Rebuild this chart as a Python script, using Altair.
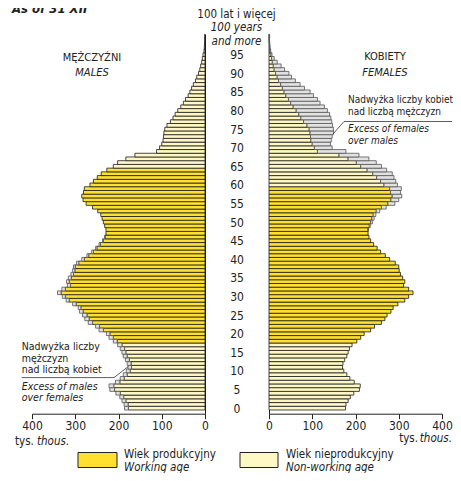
import altair as alt
import pandas as pd

# ---------------- data (thousands) ----------------
ages = list(range(0, 101))
males = [186, 187, 192, 197, 206, 220, 222, 207, 196, 189, 182, 178, 180, 184, 189, 192, 196, 202,
         212, 222, 228, 245, 253, 270, 278, 283, 290, 293, 306, 321, 330, 341, 331, 318,
         320, 316, 310, 306, 304, 297, 285, 273, 262, 253, 245, 237, 232, 229, 229, 232, 235, 238,
         241, 248, 260, 275, 282, 285, 281, 279, 266, 258, 249, 240, 227, 212, 202, 183, 162, 112,
         105, 100, 97, 96, 95, 93, 88, 80, 74, 69, 63, 56, 50, 45, 39, 35, 31, 27, 22, 19, 15,
         12, 10, 7.7, 6.2, 4.6, 2.3, 1.5, 1.0, 0.6, 0.5]
females = [177, 178, 183, 188, 196, 209, 211, 197, 187, 180, 173, 170, 171, 175, 180, 183, 186, 192,
           203, 212, 220, 235, 244, 260, 268, 273, 282, 287, 298, 314, 323, 333, 323, 311,
           314, 309, 304, 301, 300, 292, 279, 269, 258, 250, 242, 235, 231, 229, 230, 234, 239, 243,
           247, 256, 271, 291, 300, 307, 304, 306, 297, 293, 289, 285, 272, 260, 248, 231, 208, 178,
           146, 142, 144, 146, 149, 149, 147, 145, 143, 140, 135, 128, 118, 112, 103, 95, 82, 72,
           61, 52, 46, 36, 28, 19, 12, 7, 4, 2.5, 1.8, 1.2, 1.5]
male_working = (18, 64)
female_working = (18, 59)
x_ticks = [0, 100, 200, 300, 400]
age_ticks = list(range(0, 100, 5))

rows = []
for a, m, f in zip(ages, males, females):
    common = min(m, f)
    mk = "work" if male_working[0] <= a <= male_working[1] else "non"
    fk = "work" if female_working[0] <= a <= female_working[1] else "non"
    rows.append(dict(age=a, side="M", start=0, end=common, kind=mk))
    rows.append(dict(age=a, side="F", start=0, end=common, kind=fk))
    if m > f:
        rows.append(dict(age=a, side="M", start=f, end=m, kind="excess"))
    if f > m:
        rows.append(dict(age=a, side="F", start=m, end=f, kind="excess"))
df = pd.DataFrame(rows)

FONT = "DejaVu Sans Condensed, Liberation Sans Narrow, sans-serif"
YELLOW = "#FFE02E"
LIGHT = "#FFF8C4"
GRAY = "#E2E2E2"
INK = "#222222"
PW = 173          # width of one half
GAP = 64          # gap between halves
W = 2 * PW + GAP  # 410
H = 379.5
R0 = PW + GAP     # 237, left edge of the female half

color_scale = alt.Scale(domain=["work", "non", "excess"], range=[YELLOW, LIGHT, GRAY])
yscale = alt.Scale(domain=[-1.5, 100.5], nice=False, zero=False)
xscale_m = alt.Scale(domain=[0, 400], range=[PW, 0], nice=False)
xscale_f = alt.Scale(domain=[0, 400], range=[R0, W], nice=False)


def txt(s, x, y, size=10.5, italic=False, align="left", bold=False):
    return alt.Chart(alt.Data(values=[{}])).mark_text(
        text=s, align=align, baseline="alphabetic", font=FONT, fontSize=size,
        fontStyle="italic" if italic else "normal", fontWeight="bold" if bold else "normal",
        color=INK
    ).encode(x=alt.value(x), y=alt.value(y))


def rule(x1, y1, x2, y2):
    return alt.Chart(alt.Data(values=[{}])).mark_rule(color="#333333", strokeWidth=0.8).encode(
        x=alt.value(x1), y=alt.value(y1), x2=alt.value(x2), y2=alt.value(y2))


def swatch(x1, y1, x2, y2, fill):
    return alt.Chart(alt.Data(values=[{}])).mark_rect(fill=fill, stroke=INK, strokeWidth=1).encode(
        x=alt.value(x1), y=alt.value(y1), x2=alt.value(x2), y2=alt.value(y2))


def bars(side, xscale, yaxis):
    base = alt.Chart(df).transform_filter(f"datum.side == '{side}'").transform_calculate(
        lo="datum.age - 0.5", hi="datum.age + 0.5")
    xaxis = alt.Axis(orient="bottom", values=x_ticks, tickSize=5, labelPadding=2, labelFlush=False,
                     labelOverlap=False, grid=False, title=None)
    main = base.transform_filter("datum.kind != 'excess'").mark_rect(
        stroke="#1a1a1a", strokeWidth=0.8).encode(
        x=alt.X("start:Q", scale=xscale, axis=xaxis), x2="end:Q",
        y=alt.Y("lo:Q", scale=yscale, axis=yaxis), y2="hi:Q",
        color=alt.Color("kind:N", scale=color_scale, legend=None))
    exc = base.transform_filter("datum.kind == 'excess'").mark_rect(
        stroke="#555555", strokeWidth=0.8).encode(
        x=alt.X("start:Q", scale=xscale, axis=None), x2="end:Q",
        y=alt.Y("lo:Q", scale=yscale, axis=None), y2="hi:Q",
        color=alt.Color("kind:N", scale=color_scale, legend=None))
    return main, exc


left_yaxis = alt.Axis(orient="right", offset=-GAP - PW, labels=False, ticks=False, domain=True,
                      grid=False, title=None)
right_yaxis = alt.Axis(orient="left", offset=-R0, values=age_ticks, ticks=False, tickSize=0,
                       labelAlign="center", labelBaseline="middle", labelPadding=32.5,
                       labelFlush=False, labelOverlap=False, domain=True, grid=False, title=None)

lm, le = bars("M", xscale_m, left_yaxis)
rm, rf = bars("F", xscale_f, right_yaxis)

annotations = [
    # title (cut at the top edge as in the source)
    txt("As of 31 XII", -20, -21.2, 13, italic=True, bold=True),
    # males
    txt("MĘŻCZYŹNI", 60, 26.3, 11, align="center"),
    txt("MALES", 60, 41.8, 11, italic=True, align="center"),
    txt("Nadwyżka liczby", -10.3, 316.1),
    txt("mężczyzn", -10.3, 327.3),
    txt("nad liczbą kobiet", -10.3, 339.1),
    txt("Excess of males", -10.3, 355.8, italic=True),
    txt("over females", -10.3, 367.1, italic=True),
    rule(-10.3, 343.4, 82, 343.4),
    rule(82, 343.4, 96.3, 332.3),
    txt("tys.", -17, 410.8, 11.5),
    txt("thous.", 5, 410.8, 11.5, italic=True),
    swatch(46, 418.3, 85, 433.3, YELLOW),
    txt("Wiek produkcyjny", 92, 423.8, 11.5),
    txt("Working age", 92, 436.8, 11.5, italic=True),
    # centre
    txt("100 lat i więcej", 204.5, -16.7, 11.5, align="center"),
    txt("100 years", 204.5, -3.2, 11.5, italic=True, align="center"),
    txt("and more", 204.5, 10.8, 11.5, italic=True, align="center"),
    # females
    txt("KOBIETY", 353, 25.8, 11, align="center"),
    txt("FEMALES", 353, 41.3, 11, italic=True, align="center"),
    txt("Nadwyżka liczby kobiet", 316, 68.8, 10),
    txt("nad liczbą mężczyzn", 316, 80.3, 10),
    txt("Excess of females", 316, 97.8, 10, italic=True),
    txt("over males", 316, 109.8, 10, italic=True),
    rule(312, 87.3, 420, 87.3),
    rule(312, 87.3, 301, 99.8),
    txt("thous.", 420, 407.8, 11.5, italic=True, align="right"),
    txt("tys.", 386, 407.8, 11.5, align="right"),
    swatch(208, 418.3, 246, 433.3, LIGHT),
    txt("Wiek nieprodukcyjny", 254, 423.8, 11.5),
    txt("Non-working age", 254, 436.8, 11.5, italic=True),
]

chart = alt.layer(lm, le, rm, rf, *annotations).resolve_scale(
    x="independent"
).resolve_axis(
    x="independent", y="independent"
).properties(
    width=W, height=H,
    autosize=alt.AutoSizeParams(type="none"),
    padding={"left": 24, "top": 26.2, "right": 11, "bottom": 59.3},
).configure_view(stroke=None).configure_axis(
    labelFont=FONT, labelFontSize=12, labelColor=INK, domainColor=INK, tickColor=INK,
    domainWidth=1, tickWidth=1
)

chart.save("out.html", embed_options={"renderer": "svg", "actions": False})
